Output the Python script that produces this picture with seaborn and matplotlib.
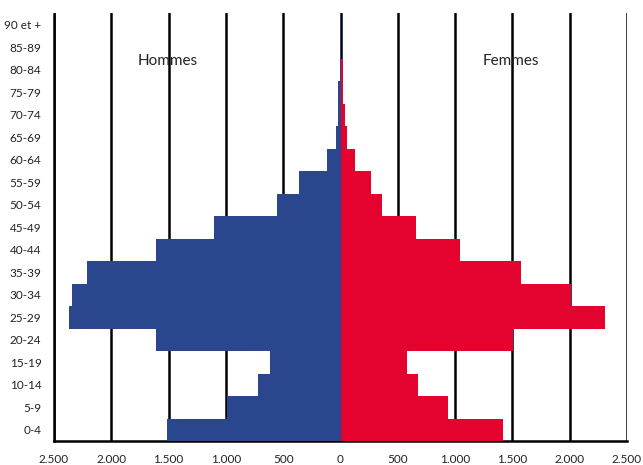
import matplotlib
matplotlib.use("Agg")
import matplotlib.pyplot as plt
import seaborn as sns
import pandas as pd

# Age groups, listed from the oldest (top) to the youngest (bottom)
age_groups = ["90 et +", "85-89", "80-84", "75-79", "70-74", "65-69", "60-64",
              "55-59", "50-54", "45-49", "40-44", "35-39", "30-34", "25-29",
              "20-24", "15-19", "10-14", "5-9", "0-4"]
hommes = [1, 3, 6, 18, 18, 42, 122, 358, 558, 1100, 1606, 2208, 2339, 2373,
          1606, 611, 724, 990, 1510]
femmes = [2, 5, 26, 26, 41, 58, 130, 262, 366, 663, 1047, 1571, 2007, 2304,
          1507, 582, 672, 942, 1414]
x_ticks = [-2500, -2000, -1500, -1000, -500, 0, 500, 1000, 1500, 2000, 2500]

df = pd.DataFrame({"age": age_groups,
                   "hommes": [-v for v in hommes],
                   "femmes": femmes})

sns.set_style("white")
plt.rcParams["font.family"] = ["Lato", "DejaVu Sans"]

fig = plt.figure(figsize=(6.43, 4.65), dpi=100)
ax = fig.add_axes([54 / 643, 1 - 441 / 465, (627 - 54) / 643, (441 - 13.5) / 465])

sns.barplot(data=df, y="age", x="hommes", order=age_groups, orient="h",
            color="#2A468C", width=1.0, linewidth=0, saturation=1, ax=ax, zorder=3)
sns.barplot(data=df, y="age", x="femmes", order=age_groups, orient="h",
            color="#E4032E", width=1.0, linewidth=0, saturation=1, ax=ax, zorder=3)

ax.set_xlim(-2500, 2500)
ax.set_ylim(len(age_groups) - 0.5, -0.5)

# Vertical gridlines every 500 behind the bars
ax.set_axisbelow(True)
ax.set_xticks(x_ticks)
ax.set_xticklabels([f"{abs(v):,}".replace(",", ".") for v in x_ticks])
ax.xaxis.grid(True, color="black", linewidth=1.8)
ax.yaxis.grid(False)

ax.tick_params(axis="x", length=0, pad=9, labelsize=8.5, colors="#222222")
ax.tick_params(axis="y", length=0, pad=9, labelsize=8.5, colors="#222222")
ax.set_xlabel("")
ax.set_ylabel("")

for side in ["top", "right"]:
    ax.spines[side].set_visible(False)
for side in ["left", "bottom"]:
    ax.spines[side].set_color("black")
    ax.spines[side].set_linewidth(1.8)
    ax.spines[side].set_zorder(1)

ax.text(-1510, 1.6, "Hommes", ha="center", va="center", fontsize=11, color="#222222")
ax.text(1490, 1.6, "Femmes", ha="center", va="center", fontsize=11, color="#222222")

fig.savefig("out.png", dpi=100)
